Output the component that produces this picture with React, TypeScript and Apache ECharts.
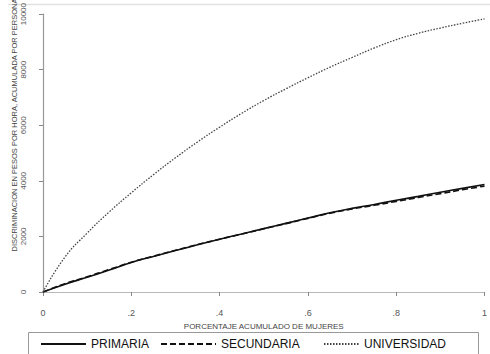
import React, { useEffect, useRef } from "react";
import * as echarts from "echarts";

// Porcentaje acumulado de mujeres
const xShare = [0, 0.05, 0.1, 0.15, 0.2, 0.25, 0.3, 0.35, 0.4, 0.45, 0.5, 0.55, 0.6, 0.65, 0.7, 0.75, 0.8, 0.85, 0.9, 0.95, 1];

// Discriminación acumulada (pesos por hora, por persona)
const primaria = [0, 280, 530, 790, 1060, 1280, 1490, 1700, 1900, 2090, 2280, 2470, 2660, 2850, 3010, 3150, 3300, 3440, 3590, 3730, 3870];
const secundaria = [0, 300, 550, 810, 1070, 1290, 1500, 1705, 1900, 2085, 2275, 2460, 2650, 2835, 2990, 3120, 3260, 3400, 3540, 3680, 3810];
const universidad = [0, 1260, 2120, 2880, 3570, 4220, 4830, 5400, 5930, 6430, 6890, 7310, 7710, 8090, 8440, 8780, 9080, 9310, 9500, 9670, 9830];

const xTicks = ["0", ".2", ".4", ".6", ".8", "1"];
const seriesNames = ["PRIMARIA", "SECUNDARIA", "UNIVERSIDAD"];

const FONT = "'Liberation Sans', Arial, sans-serif";

function pairs(vals: number[]) {
  return vals.map((v, i) => [xShare[i], v]);
}

export default function App() {
  const ref = useRef<HTMLDivElement>(null);

  useEffect(() => {
    if (!ref.current) return;
    const chart = echarts.init(ref.current, null, { renderer: "svg" });

    const legendBase = {
      top: 333,
      itemHeight: 8,
      itemStyle: { opacity: 0 },
      textStyle: { fontFamily: FONT, fontSize: 12, color: "#111" },
    };

    chart.setOption({
      animation: false,
      backgroundColor: "#fff",
      grid: { left: 43, right: 2, top: 13.5, bottom: 62, containLabel: false },
      xAxis: {
        type: "value",
        min: 0,
        max: 1,
        interval: 0.2,
        offset: 9,
        name: "PORCENTAJE ACUMULADO DE MUJERES",
        nameLocation: "middle",
        nameGap: 21,
        nameTextStyle: { fontFamily: FONT, fontSize: 8, color: "#444" },
        axisLine: { show: true, lineStyle: { color: "#b8b8b8", width: 1.2 } },
        axisTick: { show: true, length: 4, lineStyle: { color: "#888" } },
        axisLabel: {
          margin: 7,
          fontFamily: FONT,
          fontSize: 9,
          color: "#555",
          formatter: (v: number) => xTicks[Math.round(v / 0.2)] ?? "",
        },
        splitLine: { show: false },
      },
      yAxis: {
        type: "value",
        min: 0,
        max: 10000,
        interval: 2000,
        offset: 8,
        axisLine: { show: true, lineStyle: { color: "#999", width: 1.2 } },
        axisTick: { show: true, length: 4, lineStyle: { color: "#888" } },
        axisLabel: {
          rotate: 90,
          margin: 8,
          fontFamily: FONT,
          fontSize: 8,
          color: "#555",
          formatter: (v: number) => String(v),
        },
        splitLine: { show: false },
      },
      legend: [
        { ...legendBase, data: [seriesNames[0]], left: 35, itemWidth: 45 },
        { ...legendBase, data: [seriesNames[1]], left: 155, itemWidth: 55 },
        { ...legendBase, data: [seriesNames[2]], left: 318, itemWidth: 35 },
      ],
      series: [
        {
          name: seriesNames[0],
          type: "line",
          data: pairs(primaria),
          smooth: true,
          symbol: "none",
          lineStyle: { color: "#111", width: 1.6, type: "solid" },
          itemStyle: { color: "#111" },
        },
        {
          name: seriesNames[1],
          type: "line",
          data: pairs(secundaria),
          smooth: true,
          symbol: "none",
          lineStyle: { color: "#111", width: 1.6, type: [6, 3] },
          itemStyle: { color: "#111" },
        },
        {
          name: seriesNames[2],
          type: "line",
          data: pairs(universidad),
          smooth: true,
          symbol: "none",
          lineStyle: { color: "#444", width: 1.3, type: [1.5, 1.5] },
          itemStyle: { color: "#444" },
        },
      ],
      graphic: [
        {
          type: "line",
          shape: { x1: 8, y1: 4.5, x2: 490, y2: 4.5 },
          style: { stroke: "#e2e2e2", lineWidth: 1.5 },
          silent: true,
        },
        {
          type: "text",
          x: 14,
          y: 125,
          rotation: Math.PI / 2,
          style: {
            text: "DISCRIMINACION EN PESOS POR HORA, ACUMULADA POR PERSONA",
            fontFamily: FONT,
            fontSize: 7.5,
            fill: "#444",
            align: "center",
            verticalAlign: "middle",
          },
          silent: true,
        },
        {
          type: "rect",
          shape: { x: 28.5, y: 332.5, width: 450, height: 30 },
          style: { fill: "none", stroke: "#999", lineWidth: 1 },
          silent: true,
          z: -1,
        },
      ],
    });

    return () => chart.dispose();
  }, []);

  return (
    <div
      ref={ref}
      style={{ position: "fixed", left: 0, top: 0, width: 490, height: 354 }}
    />
  );
}
